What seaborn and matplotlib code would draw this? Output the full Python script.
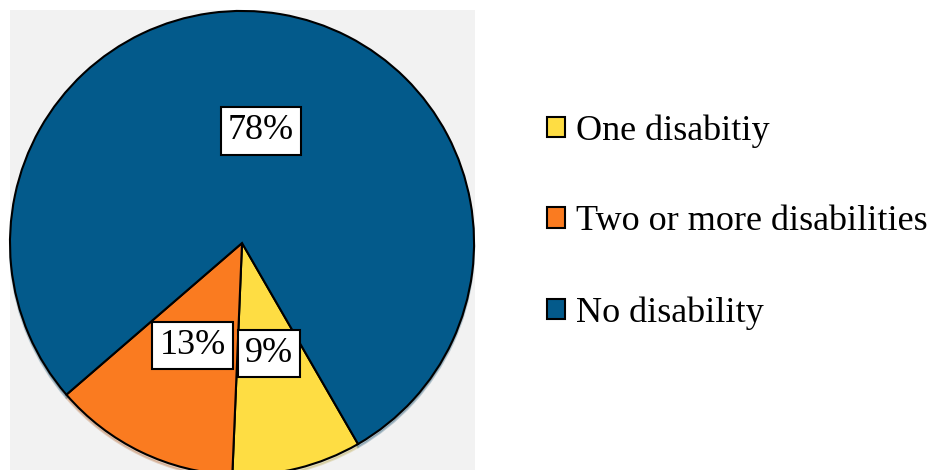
import matplotlib
matplotlib.use("Agg")
import matplotlib.pyplot as plt
import seaborn as sns

sns.set_theme(style="white")
plt.rcParams["font.family"] = ["Liberation Serif", "DejaVu Serif"]
plt.rcParams["text.color"] = "black"

# Share of people by number of disabilities
categories = ["One disabitiy", "Two or more disabilities", "No disability"]
shares = [9, 13, 78]
colors = ["#FEDD43", "#FA7B20", "#035A8B"]

fig = plt.figure(figsize=(9.37, 4.70), dpi=100)
fig.patch.set_facecolor("white")

# Grey plot area holding the pie
ax = fig.add_axes([10 / 937, 0.0, 465 / 937, 460 / 470])

wedges, texts, autotexts = ax.pie(
    shares,
    colors=colors,
    startangle=-60,
    counterclock=False,
    radius=1.0,
    autopct="%1.0f%%",
    pctdistance=0.49,
    wedgeprops=dict(edgecolor="black", linewidth=1.5),
    shadow=dict(ox=0.0, oy=-0.01, shade=0.3, alpha=0.25),
    textprops=dict(fontsize=26, color="black"),
)
ax.set_frame_on(True)
ax.set_facecolor("#F2F2F2")
for s in ax.spines.values():
    s.set_visible(False)
ax.set_aspect("auto")
ax.set_xlim(-1.0, 1.004)
ax.set_ylim(-0.978, 1.004)
ax.set_xticks([])
ax.set_yticks([])

for t in autotexts:
    t.set_bbox(dict(boxstyle="square,pad=0.2", facecolor="white",
                    edgecolor="black", linewidth=1.5))

fig.legend(
    wedges,
    categories,
    loc="center left",
    bbox_to_anchor=(529 / 937, 1 - 222 / 470),
    frameon=False,
    fontsize=26,
    handlelength=0.5,
    handleheight=0.5,
    handletextpad=0.3,
    labelspacing=1.6,
    borderpad=0.0,
)

fig.savefig("out.png", dpi=100, facecolor="white")
